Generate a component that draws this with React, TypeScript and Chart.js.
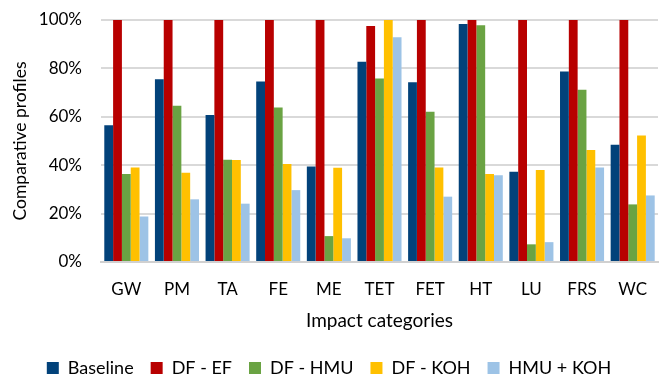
import React, { useEffect, useRef } from "react";
import { Chart, registerables } from "chart.js";

Chart.register(...registerables);

const categories = ["GW", "PM", "TA", "FE", "ME", "TET", "FET", "HT", "LU", "FRS", "WC"];
const baseline = [56.5, 75.5, 60.7, 74.6, 39.5, 82.7, 74.3, 98.3, 37.3, 78.7, 48.5];
const dfEf = [100, 100, 100, 100, 100, 97.5, 100, 100, 100, 100, 100];
const dfHmu = [36.4, 64.6, 42.3, 63.8, 10.7, 75.8, 62.1, 97.8, 7.3, 71.2, 23.8];
const dfKoh = [39.0, 36.9, 42.2, 40.5, 38.9, 100, 39.1, 36.4, 38.0, 46.3, 52.3];
const hmuKoh = [18.8, 25.9, 24.1, 29.7, 9.8, 92.9, 27.0, 35.8, 8.2, 39.0, 27.5];
const seriesNames = ["Baseline", "DF - EF", "DF - HMU", "DF - KOH", "HMU + KOH"];
const seriesColors = ["#02427A", "#B80000", "#6AA343", "#FFC000", "#9DC3E6"];
const yTicks = [0, 20, 40, 60, 80, 100];

const FONT = "Lato, 'Open Sans', sans-serif";

export default function App() {
  const ref = useRef<HTMLCanvasElement | null>(null);
  useEffect(() => {
    if (!ref.current) return;
    const values = [baseline, dfEf, dfHmu, dfKoh, hmuKoh];
    const shiftLegend = {
      id: "shiftLegend",
      afterLayout(chart: any) {
        const l = chart.legend;
        if (l) {
          l.top += 1;
          l.bottom += 1;
        }
      },
    };
    const chart = new Chart(ref.current, {
      type: "bar",
      data: {
        labels: categories,
        datasets: seriesNames.map((n, i) => ({
          label: n,
          data: values[i],
          backgroundColor: seriesColors[i],
          borderWidth: 0,
          barPercentage: 1,
          categoryPercentage: 0.87,
        })),
      },
      options: {
        animation: false,
        responsive: false,
        layout: { padding: { top: 20, right: 1, bottom: -9, left: 0 } },
        plugins: {
          tooltip: { enabled: false },
          legend: {
            position: "bottom",
            labels: {
              boxWidth: 12,
              boxHeight: 12,
              padding: 17,
              color: "#000",
              font: { family: FONT, size: 18 },
            },
          },
        },
        scales: {
          x: {
            grid: { display: false, drawTicks: false },
            border: { display: true, color: "#d0d0d0", width: 2 },
            ticks: { color: "#000", padding: 17, font: { family: FONT, size: 17 } },
            title: {
              display: true,
              text: "Impact categories",
              color: "#000",
              font: { family: FONT, size: 19 },
              padding: { top: 0, bottom: 9 },
            },
            afterFit(scale: any) {
              scale.height = 79;
              scale.paddingLeft = 0;
              scale.paddingRight = 0;
            },
          },
          y: {
            min: 0,
            max: 100,
            afterBuildTicks(scale: any) {
              scale.ticks = yTicks.map((v) => ({ value: v }));
            },
            grid: { color: "#d9d9d9", lineWidth: 2, drawTicks: false },
            border: { display: false },
            ticks: {
              color: "#000",
              padding: 19,
              font: { family: FONT, size: 17 },
              callback: (v: any) => v + "%",
            },
            title: {
              display: true,
              text: "Comparative profiles",
              color: "#000",
              font: { family: FONT, size: 17.5 },
              padding: { top: 10, bottom: 0 },
            },
            afterFit(scale: any) {
              scale.width = 101;
              scale.paddingTop = 0;
              scale.paddingBottom = 0;
            },
          },
        },
      },
      plugins: [shiftLegend],
    });
    return () => chart.destroy();
  }, []);
  return (
    <div style={{ position: "fixed", left: 0, top: 0, width: 659, height: 377, background: "#fff" }}>
      <canvas ref={ref} width={659} height={377} style={{ width: 659, height: 377 }} />
    </div>
  );
}
